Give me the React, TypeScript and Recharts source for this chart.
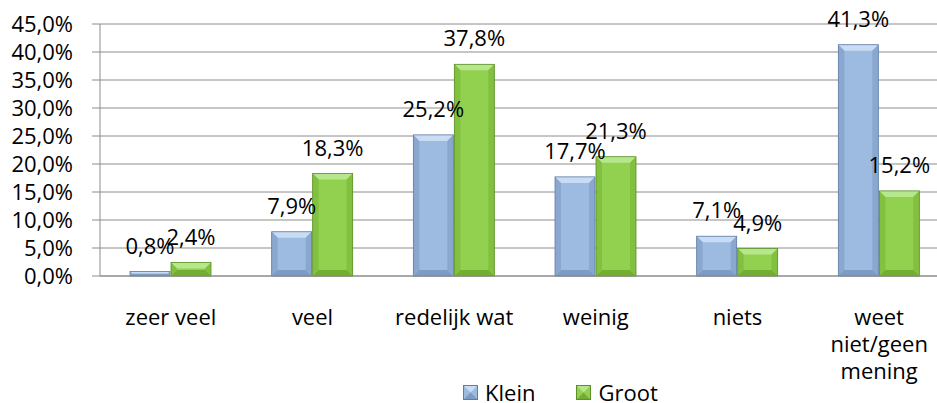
import { BarChart, Bar, XAxis, YAxis, CartesianGrid, Legend, LabelList } from "recharts";

const categories = ["zeer veel", "veel", "redelijk wat", "weinig", "niets", "weet niet/geen mening"];
const klein = [0.8, 7.9, 25.2, 17.7, 7.1, 41.3];
const groot = [2.4, 18.3, 37.8, 21.3, 4.9, 15.2];
const yTicks = [0, 5, 10, 15, 20, 25, 30, 35, 40, 45];
const boundaryTicks = [0, 1, 2, 3, 4, 5, 6];

const data = categories.map((name, i) => ({ name, klein: klein[i], groot: groot[i] }));

const FONT = "'Open Sans', sans-serif";
const GRID = "#8c8c8c";

const pct = (v: any) => `${Number(v).toFixed(1).replace(".", ",")}%`;

const palette: Record<string, { face: string; top: string; side: string; bottom: string; edge: string }> = {
  klein: { face: "#9dbbe0", top: "#c8dcf4", side: "#8aa8cf", bottom: "#7e9bc3", edge: "#5f7ca3" },
  groot: { face: "#92d050", top: "#b7e78c", side: "#82c03f", bottom: "#73ad34", edge: "#5d8e2a" },
};

// greedy word wrap, max 12 characters per line
function wrapLabel(label: string) {
  const lines: string[] = [];
  let cur = "";
  label.split(" ").forEach((word) => {
    if (cur && (cur + " " + word).length > 12) {
      lines.push(cur);
      cur = word;
    } else {
      cur = cur ? cur + " " + word : word;
    }
  });
  if (cur) lines.push(cur);
  return lines;
}

function BevelBar(props: any) {
  const { x, y, width: w, height: h, dataKey } = props;
  if (!h || h <= 0) return null;
  const c = palette[dataKey] || palette.klein;
  const b = Math.min(6, h / 2, w / 2);
  return (
    <g>
      <rect x={x} y={y} width={w} height={h} fill={c.face} />
      <polygon points={`${x},${y} ${x + w},${y} ${x + w - b},${y + b} ${x + b},${y + b}`} fill={c.top} />
      <polygon points={`${x},${y} ${x + b},${y + b} ${x + b},${y + h - b} ${x},${y + h}`} fill={c.side} />
      <polygon points={`${x + w},${y} ${x + w - b},${y + b} ${x + w - b},${y + h - b} ${x + w},${y + h}`} fill={c.side} />
      <polygon points={`${x},${y + h} ${x + b},${y + h - b} ${x + w - b},${y + h - b} ${x + w},${y + h}`} fill={c.bottom} />
      <rect x={x} y={y} width={w} height={h} fill="none" stroke={c.edge} strokeWidth={0.8} />
    </g>
  );
}

function CategoryTick(props: any) {
  const { x, y, payload } = props;
  const lines = wrapLabel(String(payload.value));
  return (
    <text x={x} y={y} textAnchor="middle" fill="#000" style={{ fontFamily: FONT, fontSize: 22 }}>
      {lines.map((line, i) => (
        <tspan key={i} x={x} dy={i === 0 ? 15 : 27}>
          {line}
        </tspan>
      ))}
    </text>
  );
}

function LegendSwatch({ c }: { c: (typeof palette)["klein"] }) {
  return (
    <svg width={15} height={15} style={{ marginRight: 7 }}>
      <rect x={0} y={0} width={15} height={15} fill={c.face} />
      <polygon points="0,0 15,0 7.5,7.5" fill={c.top} />
      <polygon points="0,15 15,15 7.5,7.5" fill={c.bottom} />
      <rect x={0.5} y={0.5} width={14} height={14} fill="none" stroke={c.edge} />
    </svg>
  );
}

function renderLegend() {
  return (
    <div
      style={{
        display: "flex",
        alignItems: "center",
        boxSizing: "border-box",
        height: 30,
        paddingLeft: 463,
        paddingTop: 8,
        fontFamily: FONT,
        fontSize: 22,
        lineHeight: "22px",
        color: "#000",
      }}
    >
      <span style={{ display: "flex", alignItems: "center", marginRight: 41 }}>
        <LegendSwatch c={palette.klein} />
        Klein
      </span>
      <span style={{ display: "flex", alignItems: "center" }}>
        <LegendSwatch c={palette.groot} />
        Groot
      </span>
    </div>
  );
}

export default function App() {
  return (
    <div
      style={{
        position: "fixed",
        left: 0,
        top: 0,
        width: 937,
        height: 403,
        overflow: "hidden",
        background: "#fff",
      }}
    >
      <BarChart
        width={960}
        height={403}
        data={data}
        margin={{ top: 24, right: 10, left: 0, bottom: 0 }}
        barGap={1}
        barCategoryGap="21.5%"
      >
        <CartesianGrid horizontal vertical={false} stroke={GRID} />
        <XAxis
          xAxisId="edge"
          type="number"
          domain={[0, 6]}
          ticks={boundaryTicks}
          height={0}
          tick={false}
          axisLine={false}
          tickLine={{ stroke: GRID }}
          tickSize={8}
          allowDataOverflow
        />
        <XAxis
          xAxisId="cat"
          dataKey="name"
          height={97}
          axisLine={{ stroke: GRID }}
          tickLine={false}
          tickSize={8}
          tickMargin={26}
          interval={0}
          tick={<CategoryTick />}
        />
        <YAxis
          width={100}
          domain={[0, 45]}
          ticks={yTicks}
          interval={0}
          tickFormatter={pct}
          axisLine={{ stroke: GRID }}
          tickLine={{ stroke: GRID }}
          tickSize={8}
          tickMargin={19}
          tick={{ fill: "#000", fontSize: 22, fontFamily: FONT }}
        />
        <Legend verticalAlign="bottom" height={30} content={renderLegend} />
        <Bar xAxisId="cat" dataKey="klein" name="Klein" barSize={40} shape={<BevelBar />} isAnimationActive={false}>
          <LabelList
            dataKey="klein"
            position="top"
            offset={18}
            formatter={pct}
            fill="#000"
            style={{ fontFamily: FONT, fontSize: 22 }}
          />
        </Bar>
        <Bar xAxisId="cat" dataKey="groot" name="Groot" barSize={40} shape={<BevelBar />} isAnimationActive={false}>
          <LabelList
            dataKey="groot"
            position="top"
            offset={18}
            formatter={pct}
            fill="#000"
            style={{ fontFamily: FONT, fontSize: 22 }}
          />
        </Bar>
      </BarChart>
    </div>
  );
}
